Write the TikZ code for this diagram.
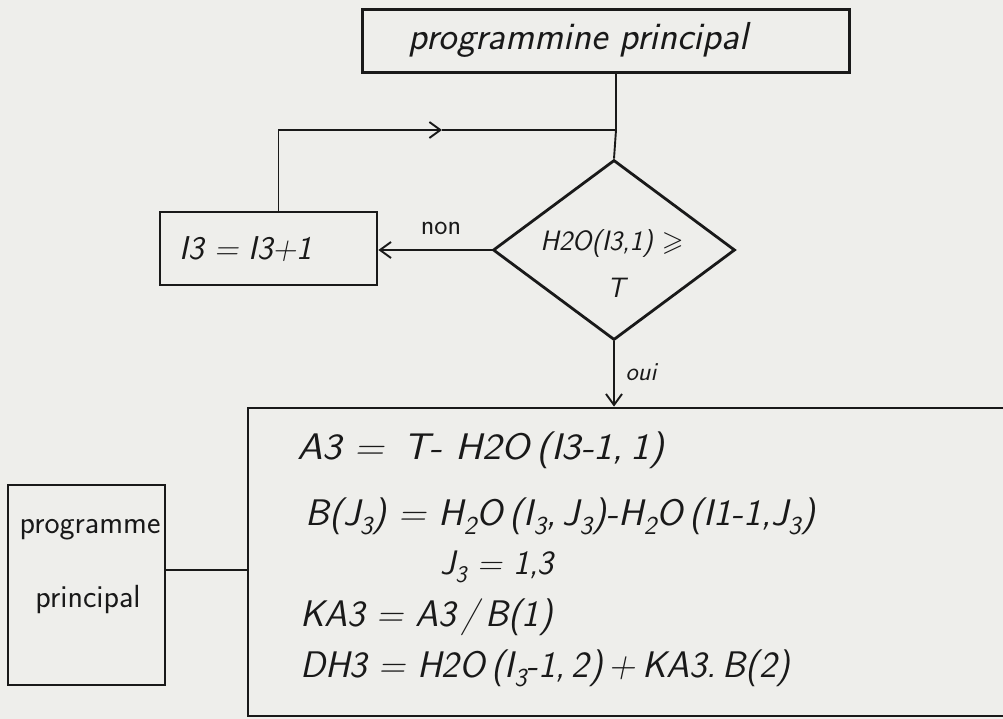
\documentclass[tikz,border=0pt]{standalone}
\usepackage{fontspec}
\usepackage{amssymb}
\usepackage{graphicx}
\usetikzlibrary{shapes.geometric,arrows.meta}
\definecolor{paper}{RGB}{238,238,235}
\definecolor{ink}{RGB}{25,25,25}
\tikzset{
  box/.style={draw=ink, line width=2.8pt, inner sep=0pt},
  conn/.style={draw=ink, line width=1.9pt},
  arr/.style={conn, -{Straight Barb[length=11pt,width=16pt,line width=1.9pt]}},
  hand/.style={text=ink, font=\sffamily\itshape\fontsize{37}{42}\selectfont, inner sep=0pt, anchor=west},
  lbl/.style={text=ink, font=\sffamily\fontsize{28}{32}\selectfont, inner sep=0pt}
}
\begin{document}
\begin{tikzpicture}[x=1pt,y=-1pt]
\useasboundingbox (0,0) rectangle (1003,719);
\clip (0,0) rectangle (1003,719);
\fill[paper] (0,0) rectangle (1003,719);
% boxes
\node[box, minimum width=487pt, minimum height=63pt] (top) at (606,41) {};
\node[lbl, font=\sffamily\itshape\fontsize{39}{44}\selectfont] (toptxt) at (578,40) {programmine principal};
\node[draw=ink, line width=2.8pt, diamond, minimum width=242pt, minimum height=180pt, inner sep=0pt] (dia) at (614,250) {};
\node[lbl, font=\sffamily\itshape\fontsize{28}{32}\selectfont] (diatxt1) at (612,244) {H2O(I3,1) $\geqslant$};
\node[lbl, font=\sffamily\itshape\fontsize{28}{32}\selectfont] (diatxt2) at (616,288) {T};
\node[box, minimum width=217pt, minimum height=73pt] (i3) at (268.5,248.5) {};
\node[lbl, font=\sffamily\itshape\fontsize{33}{36}\selectfont] (i3txt) at (246,249) {I3 = I3+1};
\node[box, minimum width=772pt, minimum height=308pt] (big) at (634,562) {};
\node[box, minimum width=157pt, minimum height=200pt] (small) at (86.5,585) {};
\node[lbl, font=\sffamily\fontsize{32}{36}\selectfont] (sm1) at (90,530) {programme};
\node[lbl, font=\sffamily\fontsize{32}{36}\selectfont] (sm2) at (88,600) {principal};
% formulas
\node[hand] (f1) at (297,450) {\scalebox{1.1}[1]{A3 =\, T- H2O\,(I3-1,\,1)}};
\node[hand] (f2) at (305,516) {\scalebox{1.03}[1]{B(J\textsubscript{3}) = H\textsubscript{2}O\,(I\textsubscript{3},\,J\textsubscript{3})-H\textsubscript{2}O\,(I1-1,J\textsubscript{3})}};
\node[hand, font=\sffamily\itshape\fontsize{34}{38}\selectfont] (f3) at (440,567) {J\textsubscript{3} = 1,3};
\node[hand] (f4) at (300,617) {KA3 = A3\,/\,B(1)};
\node[hand] (f5) at (300,668) {DH3 = H2O\,(I\textsubscript{3}-1,\,2)\,+\,KA3.\,B(2)};
% connectors
\coordinate (j) at (616,130);
\coordinate (mid) at (442,130);
\draw[conn] (j |- top.south) -- (j) -- (dia.north);
\draw[arr] ([xshift=10pt]i3.north) |- (mid);
\draw[conn] (mid) -- (j);
\draw[arr] (dia.west) -- (i3.east |- dia.west);
\node[lbl] (non) at (441,228) {non};
\draw[arr] (dia.south) -- (dia.south |- big.north);
\node[lbl, font=\sffamily\itshape\fontsize{26}{30}\selectfont] (oui) at (641,372) {oui};
\draw[conn] ([yshift=15pt]small.east) -- ([yshift=15pt]small.east -| big.west);
\end{tikzpicture}
\end{document}
